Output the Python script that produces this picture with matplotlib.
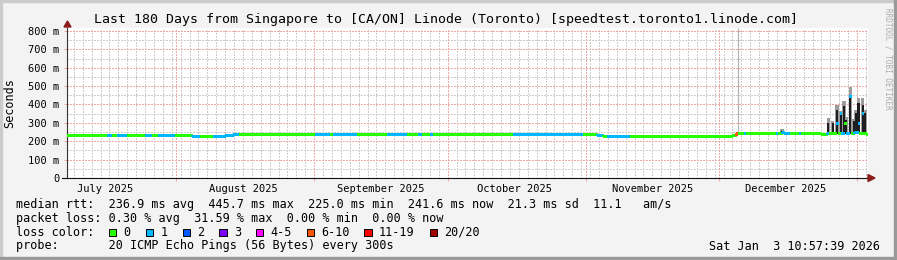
import numpy as np
import pandas as pd
import matplotlib
matplotlib.use('Agg')
import matplotlib.pyplot as plt
import matplotlib.dates as mdates
from matplotlib.patches import Rectangle, Polygon
from matplotlib.lines import Line2D

plt.rcParams['lines.scale_dashes'] = False

# median rtt as steps: start of step, rtt in ms, loss bucket (index into loss_colors)
seg_start = ['2025-07-07 10:57', '2025-07-16 12:00', '2025-07-17 14:00', '2025-07-18 16:00',
             '2025-07-21 00:00', '2025-07-25 00:00', '2025-07-26 14:00', '2025-07-27 22:00',
             '2025-07-31 16:00', '2025-08-04 12:00', '2025-08-06 10:00', '2025-08-09 08:00',
             '2025-08-12 00:00', '2025-08-13 20:00', '2025-08-15 00:00', '2025-08-24 00:00',
             '2025-09-01 04:00', '2025-09-04 14:00', '2025-09-05 05:00', '2025-09-10 16:00',
             '2025-09-17 10:00', '2025-09-21 22:00', '2025-09-24 10:00', '2025-09-25 06:00',
             '2025-09-27 00:00', '2025-09-27 18:00', '2025-10-15 16:00', '2025-10-31 12:00',
             '2025-11-03 14:00', '2025-11-04 20:00', '2025-11-05 18:00', '2025-11-11 00:00',
             '2025-11-27 00:00', '2025-11-30 00:00', '2025-12-03 20:00', '2025-12-04 20:00',
             '2025-12-05 08:00', '2025-12-06 12:00', '2025-12-07 00:00', '2025-12-13 20:00',
             '2025-12-14 08:00', '2025-12-15 04:00', '2025-12-15 16:00', '2025-12-17 00:00',
             '2025-12-19 00:00', '2025-12-19 12:00', '2025-12-24 00:00', '2025-12-25 06:00',
             '2025-12-25 18:00', '2025-12-27 06:00', '2025-12-27 16:00', '2025-12-28 04:00',
             '2025-12-28 12:00', '2025-12-29 00:00', '2025-12-29 12:00', '2025-12-30 06:00',
             '2025-12-30 16:00', '2025-12-31 10:00', '2026-01-01 04:00', '2026-01-01 12:00',
             '2026-01-02 02:00', '2026-01-02 10:00', '2026-01-03 00:00']
seg_rtt = [234, 234, 233, 233, 232, 232, 232, 233,
           233, 231, 230, 231, 235, 242, 241, 239,
           239, 239, 241, 239, 241, 239, 240, 239,
           240, 239, 240, 239, 236, 230, 227, 226,
           229, 226, 236, 243, 243, 243, 243, 246,
           243, 250, 244, 243, 243, 243, 241, 245,
           243, 300, 245, 352, 244, 300, 245, 446,
           244, 248, 300, 245, 355, 244, 242]
seg_loss = [0, 1, 0, 1, 0, 1, 0, 1,
            0, 1, 0, 1, 1, 1, 0, 0,
            1, 0, 1, 0, 1, 0, 1, 0,
            1, 0, 1, 0, 1, 0, 1, 0,
            0, 0, 0, 5, 0, 1, 0, 1,
            0, 1, 1, 0, 1, 0, 0, 1,
            0, 1, 0, 1, 1, 0, 1, 1,
            0, 1, 1, 0, 1, 0, 0]
last_time = '2026-01-03 10:57'

# smoke (spread of the 20 pings) in the last two weeks
smoke_time = ['2025-12-15 04:00', '2025-12-25 13:00', '2025-12-26 13:00', '2025-12-27 11:00',
              '2025-12-28 08:00', '2025-12-29 01:00', '2025-12-29 13:00', '2025-12-30 11:00',
              '2025-12-31 08:00', '2025-12-31 18:00', '2026-01-01 08:00', '2026-01-02 06:00',
              '2026-01-02 18:00']
smoke_low = [242, 242, 242, 242, 242, 242, 242, 242, 242, 242, 242, 242, 242]
smoke_dark = [258, 299, 299, 372, 344, 390, 317, 453, 308, 353, 408, 399, 355]
smoke_light = [266, 326, 310, 399, 362, 417, 330, 495, 320, 370, 435, 435, 370]

gap_time = '2025-12-05 07:00'
gap_rtt = 243

loss_labels = ['0', '1', '2', '3', '4-5', '6-10', '11-19', '20/20']
loss_colors = ['#26ff00', '#00b8ff', '#0059ff', '#7e00ff', '#ff00ff', '#ff5500', '#ff0000', '#a00000']

y_ticks = [0, 100, 200, 300, 400, 500, 600, 700, 800]
y_labels = ['0', '100 m', '200 m', '300 m', '400 m', '500 m', '600 m', '700 m', '800 m']
month_labels = ['July 2025', 'August 2025', 'September 2025', 'October 2025',
                'November 2025', 'December 2025']

t0 = pd.Timestamp('2025-07-07 10:57:39')
t1 = pd.Timestamp('2026-01-03 10:57:39')

W, H = 897, 260
mono = 'DejaVu Sans Mono'

fig = plt.figure(figsize=(W / 100, H / 100), dpi=100)
fig.patch.set_facecolor('#f3f3f3')
ax = fig.add_axes([67 / W, (H - 178) / H, (868 - 67) / W, (178 - 28) / H])
ax.set_facecolor('white')
ax.set_xlim(mdates.date2num(t0), mdates.date2num(t1))
ax.set_ylim(0, 816)
ax.xaxis_date()

# grid, 1px dotted
grid_minor = '#cdcdcd'
grid_major = '#ecaaaa'
gkw = dict(lw=0.72, ls=(0, (1.44, 1.44)), zorder=1, antialiased=False)
minor_days = mdates.date2num(pd.date_range('2025-07-09', '2026-01-03', freq='2D'))
for d in minor_days:
    ax.axvline(d, color=grid_minor, **gkw)
for v in np.arange(50, 816, 100):
    ax.axhline(v, color=grid_minor, **gkw)
month_starts = mdates.date2num(pd.date_range('2025-08-01', '2026-01-01', freq='MS'))
for d in month_starts:
    ax.axvline(d, color=grid_major, **gkw)
for v in y_ticks[1:]:
    ax.axhline(v, color=grid_major, **gkw)

# smoke
st = mdates.date2num(pd.to_datetime(smoke_time))
sl = np.array(smoke_low)
ax.bar(st, np.array(smoke_light) - sl, bottom=sl, width=0.75, color='#9c9c9c', zorder=2)
ax.bar(st, np.array(smoke_dark) - sl, bottom=sl, width=0.5, color='#1e1e1e', zorder=3)

# gap marker
ax.vlines(mdates.date2num(pd.Timestamp(gap_time)), gap_rtt, 816, color='#b4b4b4', lw=0.9, zorder=2)

# median line, coloured by loss
ss = mdates.date2num(pd.to_datetime(seg_start + [last_time]))
for i in range(len(seg_rtt)):
    c = loss_colors[seg_loss[i]]
    ax.plot([ss[i], ss[i + 1]], [seg_rtt[i], seg_rtt[i]], color=c, lw=1.8,
            solid_capstyle='butt', antialiased=False, zorder=4)
    if i > 0 and abs(seg_rtt[i] - seg_rtt[i - 1]) < 20:
        ax.plot([ss[i], ss[i]], [seg_rtt[i - 1], seg_rtt[i]], color=c, lw=1.8,
                solid_capstyle='butt', antialiased=False, zorder=4)

# axes
for s in ['top', 'right']:
    ax.spines[s].set_visible(False)
ax.spines['left'].set_color('#333333')
ax.spines['bottom'].set_color('#111111')
ax.spines['left'].set_linewidth(0.8)
ax.spines['bottom'].set_linewidth(0.8)

ax.set_yticks(y_ticks)
ax.set_yticklabels(y_labels, family=mono, fontsize=7.5)
ax.tick_params(axis='y', length=2, color=grid_major, pad=3.6)

ax.set_xticks(month_starts)
ax.set_xticklabels([])
ax.tick_params(axis='x', which='major', length=2.5, color=grid_major)
mid = mdates.date2num(pd.date_range('2025-07-01', '2025-12-01', freq='MS') + pd.Timedelta(days=15))
ax.set_xticks(mid, minor=True)
ax.set_xticklabels(month_labels, minor=True, family=mono, fontsize=7.5)
ax.tick_params(axis='x', which='minor', length=0, pad=4.2)

ax.set_ylabel('Seconds', family=mono, fontsize=8.5)
ax.yaxis.set_label_coords(-51 / (868 - 67), 0.5)

# arrows
arrow = '#8a1c1c'
fig.patches.append(Polygon([(64 / W, 1 - 27 / H), (71 / W, 1 - 27 / H), (67.5 / W, 1 - 21 / H)],
                           closed=True, transform=fig.transFigure, color=arrow))
fig.patches.append(Polygon([(868 / W, 1 - 174.5 / H), (868 / W, 1 - 181.5 / H), (875 / W, 1 - 178 / H)],
                           closed=True, transform=fig.transFigure, color=arrow))
fig.lines.append(Line2D([62 / W, 67 / W], [1 - 178 / H, 1 - 178 / H], transform=fig.transFigure,
                        color='#111111', lw=0.8))

# texts
fig.text(446 / W, 1 - 19 / H,
         'Last 180 Days from Singapore to [CA/ON] Linode (Toronto) [speedtest.toronto1.linode.com]',
         ha='center', va='center', family=mono, fontsize=9.5)
fig.text(888 / W, 1 - 8 / H, 'RRDTOOL / TOBI OETIKER', rotation=270, ha='center', va='top',
         family=mono, fontsize=5.5, color='#acacac')

fs = 8.5
fig.text(16 / W, 1 - 204.5 / H,
         'median rtt:  236.9 ms avg  445.7 ms max  225.0 ms min  241.6 ms now  21.3 ms sd  11.1   am/s',
         va='center', family=mono, fontsize=fs)
fig.text(16 / W, 1 - 218.3 / H,
         'packet loss: 0.30 % avg  31.59 % max  0.00 % min  0.00 % now',
         va='center', family=mono, fontsize=fs)
fig.text(16 / W, 1 - 232.3 / H, 'loss color:', va='center', family=mono, fontsize=fs)
box_x = [108.7, 146, 182.7, 219.3, 256, 306.7, 364.3, 430]
for bx, lab, col in zip(box_x, loss_labels, loss_colors):
    fig.patches.append(Rectangle((bx / W, 1 - 236 / H), 7.3 / W, 7.3 / H, transform=fig.transFigure,
                                 facecolor=col, edgecolor='black', lw=0.7))
    fig.text((bx + 14.6) / W, 1 - 232.3 / H, lab, va='center', family=mono, fontsize=fs)
fig.text(16 / W, 1 - 246 / H, 'probe:       20 ICMP Echo Pings (56 Bytes) every 300s',
         va='center', family=mono, fontsize=fs)
fig.text(880 / W, 1 - 246 / H, 'Sat Jan  3 10:57:39 2026', ha='right', va='center',
         family=mono, fontsize=fs)

# frame shading
fig.patches.append(Rectangle((0, 1 - 2 / H), 1, 2 / H, transform=fig.transFigure, color='#cbcbcb'))
fig.patches.append(Rectangle((0, 0), 2 / W, 1, transform=fig.transFigure, color='#cbcbcb'))
fig.patches.append(Rectangle((0, 0), 1, 3 / H, transform=fig.transFigure, color='#999999'))
fig.patches.append(Rectangle((1 - 3 / W, 0), 3 / W, 1, transform=fig.transFigure, color='#999999'))

fig.savefig('out.png', dpi=100, facecolor=fig.get_facecolor())
